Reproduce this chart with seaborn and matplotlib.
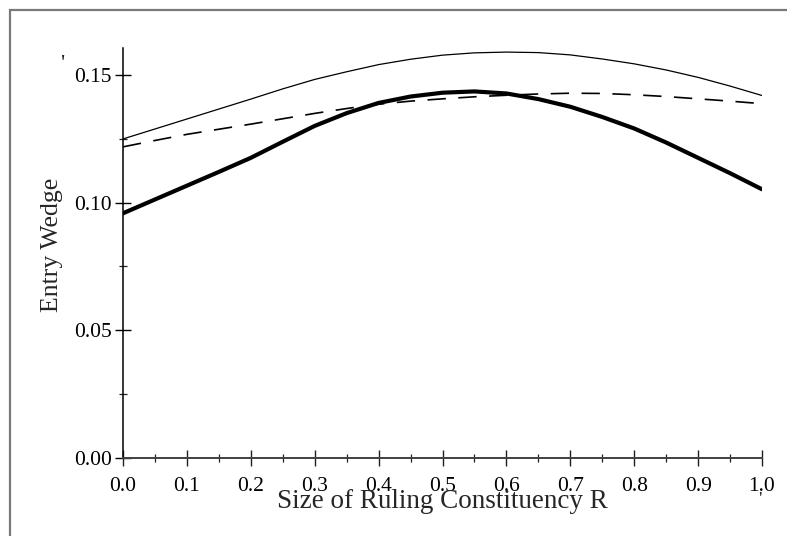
import matplotlib
matplotlib.use("Agg")
import matplotlib.pyplot as plt
from matplotlib.patches import Rectangle
from matplotlib.ticker import MultipleLocator, FixedLocator
import seaborn as sns
import pandas as pd

# ---- data ----
R = [0.0, 0.05, 0.1, 0.15, 0.2, 0.25, 0.3, 0.35, 0.4, 0.45, 0.5,
     0.55, 0.6, 0.65, 0.7, 0.75, 0.8, 0.85, 0.9, 0.95, 1.0]
thin_solid = [0.1249, 0.1288, 0.1327, 0.1366, 0.1405, 0.1445, 0.1482, 0.1512,
              0.1540, 0.1561, 0.1577, 0.1586, 0.1589, 0.1587, 0.1578, 0.1562,
              0.1543, 0.1519, 0.1490, 0.1456, 0.1419]
dashed = [0.1218, 0.1243, 0.1267, 0.1287, 0.1307, 0.1328, 0.1349, 0.1368,
          0.1385, 0.1397, 0.1406, 0.1414, 0.1420, 0.1425, 0.1428, 0.1427,
          0.1422, 0.1415, 0.1406, 0.1397, 0.1387]
thick_solid = [0.0958, 0.1012, 0.1066, 0.1120, 0.1175, 0.1238, 0.1300, 0.1350,
               0.1390, 0.1415, 0.1430, 0.1435, 0.1427, 0.1405, 0.1375, 0.1335,
               0.1290, 0.1235, 0.1175, 0.1115, 0.1052]
x_ticks = [0.0, 0.1, 0.2, 0.3, 0.4, 0.5, 0.6, 0.7, 0.8, 0.9, 1.0]
x_ticklabels = ["0.0", "0.1", "0.2", "0.3", "0.4", "0.5", "0.6", "0.7", "0.8", "0.9", "1.0"]
y_ticks = [0.00, 0.05, 0.10, 0.15]
y_ticklabels = ["0.00", "0.05", "0.10", "0.15"]
xlabel = "Size of Ruling Constituency R"
ylabel = "Entry Wedge"

sns.set_style("ticks")
plt.rcParams['font.family'] = ['Liberation Serif', 'DejaVu Serif']

fig = plt.figure(figsize=(7.87, 5.36), dpi=100)
ax = fig.add_axes([123/787, 1-458/536, (762-123)/787, (458-48)/536])

# outer grey frame
fig.patches.append(Rectangle((10/787, -0.1), 1.2, 1 - 10/536 + 0.1,
                             transform=fig.transFigure, fill=False,
                             edgecolor="#7a7a7a", linewidth=1.6, zorder=0))

df_thin = pd.DataFrame({"R": R, "v": thin_solid})
df_dash = pd.DataFrame({"R": R, "v": dashed})
df_thick = pd.DataFrame({"R": R, "v": thick_solid})

sns.lineplot(data=df_thin, x="R", y="v", ax=ax, color="black", linewidth=0.9)
sns.lineplot(data=df_dash, x="R", y="v", ax=ax, color="black", linewidth=1.2)
ax.lines[-1].set_dashes((11, 7.5))
sns.lineplot(data=df_thick, x="R", y="v", ax=ax, color="black", linewidth=3.0,
             solid_capstyle="round")

ax.set_xlim(0, 1.0)
ax.set_ylim(0, 0.1605)
for s in ["top", "right"]:
    ax.spines[s].set_visible(False)
ax.spines["left"].set_color("black")
ax.spines["bottom"].set_color("#404040")
ax.spines["left"].set_linewidth(1.1)
ax.spines["bottom"].set_linewidth(1.4)

ax.xaxis.set_major_locator(FixedLocator(x_ticks))
ax.set_xticklabels(x_ticklabels)
ax.yaxis.set_major_locator(FixedLocator(y_ticks))
ax.set_yticklabels(y_ticklabels)
ax.xaxis.set_minor_locator(MultipleLocator(0.05))
ax.yaxis.set_minor_locator(MultipleLocator(0.025))
ax.tick_params(which="major", direction="inout", length=12, width=1.0,
               labelsize=15.5, colors="black")
ax.tick_params(axis="x", which="major", pad=8, color="#202020")
ax.tick_params(axis="y", which="major", pad=2)
ax.tick_params(which="minor", direction="inout", length=6, width=0.9, color="#202020")

ax.set_xlabel(xlabel, fontsize=19.5)
ax.set_ylabel(ylabel, fontsize=18.5)
ax.xaxis.set_label_coords(0.5, (458-501)/410)
ax.xaxis.label.set_va("center")
ax.yaxis.set_label_coords((52-123)/639, (458-245)/410)
ax.yaxis.label.set_va("center")

# stray marks present in the reference
fig.text(63/787, 1-64/536, "'", fontsize=17, ha="center", va="center")
fig.text(760/787, 1-500/536, "'", fontsize=14, ha="center", va="center")

fig.savefig("out.png", dpi=100)
